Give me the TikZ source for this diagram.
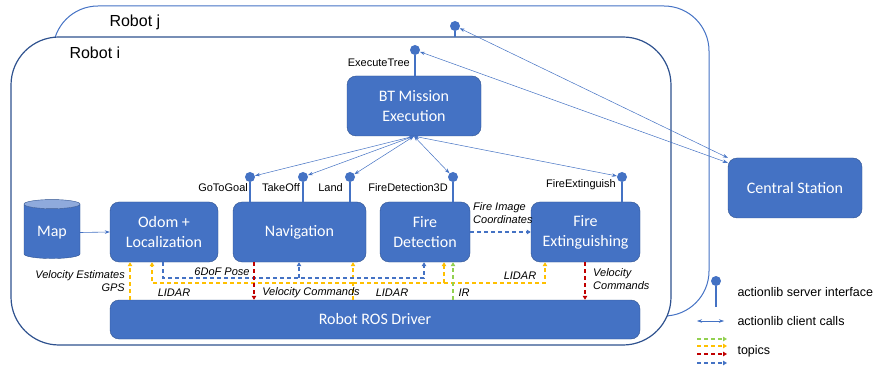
\documentclass[tikz,border=0pt]{standalone}
\usepackage{fontspec}
\setmainfont{Liberation Sans}
\newfontfamily\calibri{Carlito}
\usetikzlibrary{arrows.meta,shapes.geometric}
\definecolor{boxblue}{HTML}{4472C4}
\definecolor{boxline}{HTML}{2F528F}
\definecolor{mapend}{HTML}{8FAADC}
\definecolor{topicyellow}{HTML}{FFC000}
\definecolor{topicred}{HTML}{C00000}
\definecolor{topicgreen}{HTML}{92D050}
\tikzset{
  module/.style={draw=boxline, fill=boxblue, rounded corners=9pt, text=white, align=center,
    font=\calibri\fontsize{16}{20}\selectfont, minimum height=60pt, inner sep=2pt},
  srv/.style={circle, fill=boxblue, inner sep=0pt, minimum size=10pt},
  stem/.style={draw=boxblue, line width=2pt},
  client/.style={draw=boxblue, line width=0.5pt,
    {Stealth[length=5pt,width=3.5pt]}-{Stealth[length=5pt,width=3.5pt]}},
  topic/.style={line width=1.2pt, dash pattern=on 4pt off 3pt, -{Triangle[length=4pt,width=4.5pt]}},
  lbl/.style={font=\fontsize{11}{13}\selectfont, inner sep=1pt},
  tlbl/.style={font=\itshape\fontsize{11}{13}\selectfont, inner sep=1pt},
}
\begin{document}
\begin{tikzpicture}[x=1pt, y=-1pt]
\useasboundingbox (0,0) rectangle (877,371);
\draw[boxblue, line width=1pt, rounded corners=45pt] (53,6) rectangle (709,316);
\draw[boxline, fill=white, line width=1.2pt, rounded corners=48pt] (11,37) rectangle (671,345);
\node[anchor=west, font=\fontsize{16}{18}\selectfont] (robotj) at (106,22) {Robot j};
\node[anchor=west, font=\fontsize{16}{18}\selectfont] (roboti) at (66,53) {Robot i};

\node[module, minimum width=134pt] (bt) at (414,106) {BT Mission\\Execution};
\node[module, minimum width=108pt] (odom) at (164,232) {Odom +\\Localization};
\node[module, minimum width=133pt] (nav) at (299.5,232) {Navigation};
\node[module, minimum width=90pt] (fdet) at (425,232) {Fire\\Detection};
\node[module, minimum width=109pt] (fext) at (585.5,232) {Fire\\Extinguishing};
\node[module, minimum width=134pt] (cs) at (795,188) {Central Station};
\node[module, minimum width=530pt, minimum height=39pt] (drv) at (375,319.5) {Robot ROS Driver};
\node[cylinder, shape border rotate=90, aspect=0.25, draw=boxline, cylinder uses custom fill,
  cylinder body fill=boxblue, cylinder end fill=mapend, minimum width=56pt, minimum height=59pt,
  text=white, font=\calibri\fontsize{16}{20}\selectfont] (map) at (52,232.5) {Map};

\node[srv] (rj) at (455,26) {};
\node[srv] (et) at (415,50) {};
\node[srv] (gotogoal) at (250,177) {};
\node[srv] (takeoff) at (303,177) {};
\node[srv] (land) at (350,177) {};
\node[srv] (fd3d) at (453,177) {};
\node[srv] (fextsrv) at (622,177) {};
\draw[stem] (455,37) -- (rj);
\draw[stem] (bt.north -| et) -- (et);
\draw[stem] (nav.north -| gotogoal) -- (gotogoal);
\draw[stem] (nav.north -| takeoff) -- (takeoff);
\draw[stem] (nav.north -| land) -- (land);
\draw[stem] (fdet.north -| fd3d) -- (fd3d);
\draw[stem] (fext.north -| fextsrv) -- (fextsrv);
\node[lbl, anchor=east] (lbet) at (411,63) {ExecuteTree};
\node[lbl, anchor=east] (lbgoto) at (249,188) {GoToGoal};
\node[lbl, anchor=east] (lbtake) at (301,188) {TakeOff};
\node[lbl, anchor=east] (lbland) at (344,188) {Land};
\node[lbl, anchor=east] (lbfd) at (449,188) {FireDetection3D};
\node[lbl, anchor=east] (lbfe) at (617,185) {FireExtinguish};

\draw[client] (bt.south) -- (gotogoal);
\draw[client] (bt.south) -- (takeoff);
\draw[client] (bt.south) -- (land);
\draw[client] (bt.south) -- (fd3d);
\draw[client] (bt.south) -- (fextsrv);
\draw[client] (rj) -- (cs.north west);
\draw[client] (et) -- ([yshift=-5pt]cs.north west);
\draw[boxblue, line width=0.6pt, -{Stealth[length=5pt,width=3.5pt]}] (map.east) -- (odom.west);

\draw[topic, topicyellow] (drv.north -| 130,0) -- (odom.south -| 130,0);
\draw[topic, topicyellow] (drv.north -| 353,0) -- (nav.south -| 353,0);
\draw[topic, topicyellow] (353,283) -| (odom.south -| 152,0);
\draw[topic, topicyellow] (353,283) -| (fdet.south -| 444,0);
\draw[topic, topicyellow] (444,283) -| (fext.south -| 545,0);
\draw[topic, boxblue] (odom.south -| 163,0) |- (424,278) -- (fdet.south -| 424,0);
\draw[topic, boxblue] (299,278) -- (nav.south -| 299,0);
\draw[topic, boxblue] (fdet.east) -- (fext.west);
\draw[topic, topicred] (nav.south -| 254,0) -- (drv.north -| 254,0);
\draw[topic, topicred] (fext.south -| 585,0) -- (drv.north -| 585,0);
\draw[topic, topicgreen] (drv.north -| 453,0) -- (fdet.south -| 453,0);

\node[tlbl, anchor=east, align=right] (lbvel) at (126,281.5) {Velocity Estimates\\GPS};
\node[tlbl] (lbpose) at (222,272) {6DoF Pose};
\node[tlbl] (lblidar1) at (174,293) {LIDAR};
\node[tlbl] (lbcmd1) at (311,293) {Velocity Commands};
\node[tlbl] (lblidar2) at (392,293) {LIDAR};
\node[tlbl] (lbir) at (464,293) {IR};
\node[tlbl] (lblidar3) at (520,276) {LIDAR};
\node[tlbl, anchor=west, align=left] (lbimg) at (472,213.5) {Fire Image\\Coordinates};
\node[tlbl, anchor=west, align=left] (lbcmd2) at (592,279.5) {Velocity\\Commands};

\node[srv] (lgsrv) at (716,281) {};
\coordinate (lgstem) at (716,307);
\draw[stem] (lgstem) -- (lgsrv);
\coordinate (lgcl1) at (697,321);
\coordinate (lgcl2) at (724,321);
\draw[client] (lgcl1) -- (lgcl2);
\draw[topic, topicgreen] (697,339) -- (727,339);
\draw[topic, topicyellow] (697,346) -- (727,346);
\draw[topic, topicred] (697,354) -- (727,354);
\draw[topic, boxblue] (697,363) -- (727,363);
\node[anchor=west, font=\fontsize{12.5}{15}\selectfont] (lgsrvtxt) at (734,292) {actionlib server interface};
\node[anchor=west, font=\fontsize{12.5}{15}\selectfont] (lgcltxt) at (734,321) {actionlib client calls};
\node[anchor=west, font=\fontsize{12.5}{15}\selectfont] (lgtptxt) at (734,351) {topics};
\end{tikzpicture}
\end{document}
